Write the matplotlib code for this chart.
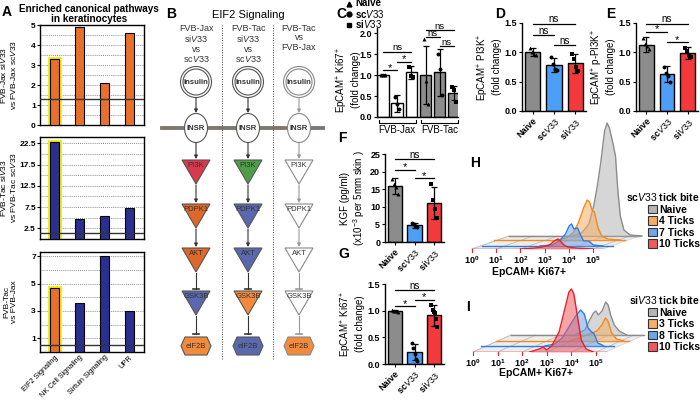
import numpy as np
import matplotlib
matplotlib.use("Agg")
import matplotlib.pyplot as plt
import matplotlib.transforms as mtransforms
from matplotlib.patches import Ellipse, Polygon, Patch
from matplotlib.lines import Line2D
from matplotlib.ticker import FormatStrFormatter

plt.rcParams['font.family'] = 'Liberation Sans'
plt.rcParams['mathtext.fontset'] = 'custom'
plt.rcParams['mathtext.rm'] = 'Liberation Sans'
plt.rcParams['mathtext.it'] = 'Liberation Sans:italic'
plt.rcParams['mathtext.bf'] = 'Liberation Sans:bold'
plt.rcParams['font.size'] = 7
plt.rcParams['axes.linewidth'] = 1.0

# ---- data ----
# A: enriched pathways (-log p)
a_pathways = ["EIF2 Signaling", "NK Cell Signaling", "Sirtuin Signaling", "UPR"]
a_jax = [3.3, 4.9, 2.1, 4.6]
a_tac = [22.8, 4.6, 5.4, 7.3]
a_tac_vs_jax = [4.7, 3.6, 7.0, 3.0]

# B: EIF2 signaling nodes
b_headers = ["FVB-Jax\nsi$\\it{V33}$\nvs\nsc$\\it{V33}$",
             "FVB-Tac\nsi$\\it{V33}$\nvs\nsc$\\it{V33}$",
             "FVB-Tac\nvs\nFVB-Jax"]
b_nodes = ["PI3K", "PDPK1", "AKT", "GSK3B", "eIF2B"]
b_fill = [["#d8394b", "#e0672a", "#e0672a", "#5a68ae", "#f28a3c"],
          ["#4e9e47", "#5a68ae", "#5a68ae", "#f28a3c", "#5a68ae"],
          ["white", "white", "white", "white", "#f28a3c"]]

# C: EpCAM+ Ki67+ fold change
c_groups = ["FVB-Jax", "FVB-Tac"]
c_means = [1.0, 0.33, 1.06, 1.0, 1.06, 0.57]
c_err = [0.02, 0.2, 0.16, 0.68, 0.55, 0.17]
c_points = [[1.01, 1.0, 0.99], [0.47, 0.3, 0.2], [1.18, 0.98, 0.95],
            [1.85, 0.85, 0.3], [1.5, 1.15, 0.52], [0.72, 0.64, 0.36]]

cond = ["Naive", "sc$\\it{V33}$", "si$\\it{V33}$"]

d_means = [1.0, 0.79, 0.81]
d_err = [0.07, 0.12, 0.17]
d_points = [[1.07, 1.0, 0.97, 0.95], [0.92, 0.8, 0.72, 0.7], [0.97, 0.88, 0.75, 0.68]]

e_means = [1.13, 0.63, 0.99]
e_err = [0.13, 0.14, 0.1]
e_points = [[1.25, 1.15, 1.1, 1.05], [0.75, 0.65, 0.6, 0.5], [1.08, 1.02, 0.95, 0.92]]

f_means = [16.0, 4.8, 11.0]
f_err = [2.3, 0.7, 4.5]
f_points = [[18.0, 16.5, 15.5, 13.5], [5.4, 5.0, 4.6, 4.2], [16.5, 12.0, 9.5, 6.8]]

g_means = [1.0, 0.22, 0.91]
g_err = [0.02, 0.15, 0.2]
g_points = [[1.02, 1.0, 0.99, 0.98], [0.4, 0.3, 0.18, 0.1, 0.05],
            [1.1, 1.02, 0.98, 0.95, 0.85, 0.7]]

# H: scV33 histograms (x in log10 decades, height)
h_labels = ["10 Ticks", "7 Ticks", "4 Ticks", "Naive"]
h10_x = [2.0, 2.6, 2.9, 3.2, 3.4, 3.55, 3.65, 3.8, 3.95, 4.3, 5.0]
h10_y = [0, 1, 2, 4, 8, 10, 8, 4, 2, 1, 0]
h7_x = [2.4, 2.9, 3.2, 3.45, 3.6, 3.7, 3.8, 3.95, 4.05, 4.2, 4.4, 4.6, 5.0]
h7_y = [0, 1, 5, 12, 20, 22, 17, 18, 12, 5, 5, 1, 0]
h4_x = [2.6, 3.0, 3.3, 3.5, 3.7, 3.85, 3.95, 4.05, 4.15, 4.3, 4.45, 4.7, 5.2]
h4_y = [0, 2, 8, 18, 32, 40, 38, 30, 28, 12, 4, 1, 0]
hn_x = [2.6, 3.0, 3.3, 3.5, 3.65, 3.8, 3.95, 4.05, 4.15, 4.3, 4.4, 4.5, 4.6, 4.75, 5.0, 5.5]
hn_y = [0, 3, 12, 30, 50, 75, 105, 113, 108, 92, 80, 45, 20, 6, 1, 0]

# I: siV33 histograms
i_labels = ["10 Ticks", "8 Ticks", "3 Ticks", "Naive"]
i10_x = [2.3, 2.7, 2.85, 3.0, 3.2, 3.5, 3.75, 3.9, 4.0, 4.1, 4.25, 4.4, 4.6, 4.9]
i10_y = [0, 3, 5, 2, 6, 20, 45, 60, 63, 58, 35, 12, 3, 0]
i8_x = [2.6, 3.0, 3.3, 3.6, 3.85, 4.05, 4.2, 4.35, 4.5, 4.6, 4.75, 5.0]
i8_y = [0, 2, 8, 20, 30, 36, 32, 18, 14, 12, 3, 0]
i3_x = [3.0, 3.4, 3.7, 3.9, 4.1, 4.3, 4.45, 4.55, 4.7, 4.9, 5.2]
i3_y = [0, 3, 6, 8, 10, 16, 23, 20, 8, 2, 0]
in_x = [2.6, 3.0, 3.2, 3.35, 3.45, 3.55, 3.7, 3.85, 3.95, 4.05, 4.2, 4.4, 4.7]
in_y = [0, 5, 15, 22, 24, 20, 24, 33, 30, 20, 10, 4, 0]

# ---- figure ----
W, H = 700, 401
fig = plt.figure(figsize=(7, 4.01), dpi=100)


def px_axes(x0, y0, x1, y1):
    return fig.add_axes([x0 / W, 1 - y1 / H, (x1 - x0) / W, (y1 - y0) / H])


def bold_ticks(ax, x=True):
    labels = ax.get_yticklabels() + (ax.get_xticklabels() if x else [])
    for t in labels:
        t.set_fontweight('bold')


# ---- A ----
ORANGE, NAVY = '#e8702a', '#2b2f8f'


def enrich_panel(box, vals, colors, ylim, yticks, minor, thresh, ylabel, xlabels=False):
    ax = px_axes(*box)
    x = np.arange(len(vals))
    ax.bar(x[:1], vals[:1], width=0.36, color=colors[0], edgecolor='#f2ee00', linewidth=3.5, zorder=2)
    ax.bar(x, vals, width=0.36, color=colors, edgecolor='black', linewidth=0.8, zorder=3)
    ax.axhline(thresh, color='#333333', lw=1, zorder=4)
    ax.set_xlim(-0.6, 3.6)
    ax.set_ylim(*ylim)
    ax.set_yticks(yticks)
    ax.set_yticks(minor, minor=True)
    ax.grid(axis='y', which='both', linestyle=(0, (1, 1.5)), color='#666666', lw=0.6, zorder=0)
    ax.tick_params(axis='y', which='major', labelsize=6, length=2, pad=1)
    ax.tick_params(axis='y', which='minor', length=0)
    ax.set_ylabel(ylabel, fontsize=6, linespacing=1.05)
    ax.yaxis.set_label_coords(-0.215, 0.5)
    if xlabels:
        ax.set_xticks(x)
        ax.set_xticklabels(a_pathways, rotation=45, ha='right', rotation_mode='anchor', fontsize=5.3)
        ax.tick_params(axis='x', length=0, pad=1.5)
    else:
        ax.set_xticks([])
    bold_ticks(ax, x=False)
    return ax


enrich_panel((40, 25, 144, 125), a_jax, [ORANGE] * 4, (0, 5), range(6),
             np.arange(0, 5.01, 0.5), 1.3, "FVB-Jax si$\\it{V33}$\nvs FVB-Jax sc$\\it{V33}$")
enrich_panel((40, 137, 144, 239), a_tac, [NAVY] * 4, (0, 24), [2.5, 7.5, 12.5, 17.5, 22.5],
             np.arange(0, 24, 2.5), 1.5, "FVB-Tac si$\\it{V33}$\nvs FVB-Tac sc$\\it{V33}$")
enrich_panel((40, 252, 144, 352), a_tac_vs_jax, [ORANGE, NAVY, NAVY, NAVY], (0, 7.3), [1, 3, 5, 7],
             range(0, 8), 0.5, "FVB-Tac\nvs FVB-Jax", xlabels=True)
fig.text(89 / W, 1 - 14 / H, "Enriched canonical pathways\nin keratinocytes", ha='center', va='center',
         fontsize=7.2, fontweight='bold', linespacing=0.95)

# ---- B ----
axB = px_axes(140, 0, 335, 401)
axB.set_xlim(140, 335)
axB.set_ylim(401, 0)
axB.axis('off')
axB.text(248, 15, "EIF2 Signaling", ha='center', va='center', fontsize=8)
for sx in [222, 273]:
    axB.plot([sx, sx], [25, 360], color='#444444', lw=0.7, linestyle=(0, (1, 1.5)))
axB.plot([162, 323], [128, 128], color='#7f7870', lw=2.8, zorder=1)

col_x = [196, 248, 299]
tri_top = [160, 204, 248, 291]
for c, cx in enumerate(col_x):
    edge = '#555555' if c < 2 else '#888888'
    link = '#333333' if c < 2 else '#999999'
    axB.text(cx, 24, b_headers[c], ha='center', va='top', fontsize=6.5, linespacing=1.05, color='#333333')
    axB.add_patch(Ellipse((cx, 82), 31, 31, facecolor='white', edgecolor=edge, lw=0.8, zorder=2))
    axB.add_patch(Ellipse((cx, 82), 26, 26, facecolor='white', edgecolor=edge, lw=0.8, zorder=2))
    axB.text(cx, 82, "Insulin", ha='center', va='center', fontsize=5.5, fontweight='bold', color='#333333', zorder=3)
    axB.add_patch(Ellipse((cx, 128), 23, 29, facecolor='white', edgecolor=edge, lw=0.8, zorder=2))
    axB.text(cx, 128, "INSR", ha='center', va='center', fontsize=5.5, fontweight='bold', color='#333333', zorder=3)
    for k, top in enumerate(tri_top):
        axB.add_patch(Polygon([(cx - 14, top), (cx + 14, top), (cx, top + 24)], closed=True,
                              facecolor=b_fill[c][k], edgecolor=edge, lw=0.8, zorder=2))
        axB.text(cx, top + 5.5, b_nodes[k], ha='center', va='center', fontsize=5.5, color='#333333', zorder=3)
    hx = [(cx - 15, 346), (cx - 11, 337), (cx + 11, 337), (cx + 15, 346), (cx + 11, 355), (cx - 11, 355)]
    axB.add_patch(Polygon(hx, closed=True, facecolor=b_fill[c][4], edgecolor=edge, lw=0.8, zorder=2))
    axB.text(cx, 346, b_nodes[4], ha='center', va='center', fontsize=5.5, color='#333333', zorder=3)
    for y0, y1 in [(98, 113), (143, 159), (185, 203), (229, 247)]:
        axB.annotate('', xy=(cx, y1), xytext=(cx, y0),
                     arrowprops=dict(arrowstyle='-|>', color=link, lw=0.8, mutation_scale=5,
                                     shrinkA=0, shrinkB=0))
    for y0, y1 in [(273, 289), (316, 334)]:
        axB.plot([cx, cx], [y0, y1], color=link, lw=0.8)
        axB.plot([cx - 3, cx + 3], [y1, y1], color=link, lw=1.2)

# ---- C-G bar panels ----
BAR3 = ['#8c8c8c', '#4d9ef7', '#f2393b']
MARK3 = ['^', 'o', 's']


def bar_panel(box, means, errs, points, colors, marks, ylim, yticks, fmt, ylabel, brackets,
              xlim=(-0.5, 2.5), width=0.72, xlabels=True, ns_size=7):
    ax = px_axes(*box)
    x = np.arange(len(means))
    ax.bar(x, means, width=width, color=colors, edgecolor='black', linewidth=1, zorder=2)
    ax.errorbar(x, means, yerr=errs, fmt='none', ecolor='black', elinewidth=0.9,
                capsize=2, capthick=0.9, zorder=3)
    for xi, pts, m in zip(x, points, marks):
        offs = np.linspace(-0.14, 0.14, len(pts))
        ax.scatter(xi + offs, pts, marker=m, s=8, color='black', zorder=4, linewidths=0)
    for i, j, y, txt in brackets:
        ax.plot([x[i], x[j]], [y, y], color='black', lw=0.9, clip_on=False)
        if txt == 'ns':
            ax.text((x[i] + x[j]) / 2, y - ylim[1] * 0.01, txt, ha='center', va='bottom',
                    fontsize=ns_size, clip_on=False)
        else:
            ax.text((x[i] + x[j]) / 2, y - (ylim[1] * 0.03), txt, ha='center', va='bottom',
                    fontsize=8, clip_on=False)
    ax.set_xlim(*xlim)
    ax.set_ylim(*ylim)
    ax.set_yticks(yticks)
    ax.yaxis.set_major_formatter(FormatStrFormatter(fmt))
    ax.spines['top'].set_visible(False)
    ax.spines['right'].set_visible(False)
    ax.tick_params(axis='y', labelsize=6.5, length=2.5, pad=1)
    ax.set_ylabel(ylabel, fontsize=7, labelpad=2, linespacing=1.1)
    if xlabels:
        ax.set_xticks(x)
        ax.set_xticklabels(cond, rotation=45, ha='right', rotation_mode='anchor', fontsize=6.5)
        ax.tick_params(axis='x', length=2, pad=2)
    else:
        ax.set_xticks([])
    bold_ticks(ax)
    return ax


axC = bar_panel((377, 28, 458, 117), c_means, c_err, c_points, ['white'] * 3 + ['#8c8c8c'] * 3,
                MARK3 * 2, (0, 2.12), [0, 0.5, 1.0, 1.5, 2.0], '%.1f',
                "EpCAM$^{+}$ Ki67$^{+}$\n(fold change)",
                [(0, 2, 1.56, 'ns'), (0, 1, 1.12, '*'), (1, 2, 1.32, '*'),
                 (3, 5, 2.08, 'ns'), (3, 4, 1.9, 'ns'), (4, 5, 1.68, 'ns')],
                xlim=(-0.42, 5.28), width=0.8, xlabels=False, ns_size=6.8)
axC.yaxis.set_label_coords(-0.2, 0.42)
trans = mtransforms.blended_transform_factory(axC.transData, axC.transAxes)
for (i, j), name in zip([(0, 2), (3, 5)], c_groups):
    axC.plot([i - 0.3, i - 0.3, j + 0.3, j + 0.3], [-0.03, -0.07, -0.07, -0.03], transform=trans,
             clip_on=False, color='black', lw=0.8)
    axC.text((i + j) / 2, -0.09, name, transform=trans, ha='center', va='top', fontsize=7)
# legend of panel C (marker + label rows)
for r, (m, lab) in enumerate(zip(MARK3, cond)):
    ly = 3.5 + 10.5 * r
    fig.add_artist(Line2D([349 / W], [1 - ly / H], marker=m, color='black', linestyle='none',
                          markersize=3.5))
    fig.text(355 / W, 1 - ly / H, lab, va='center', ha='left', fontsize=7, fontweight='bold')

bar_panel((522, 23, 586, 111), d_means, d_err, d_points, BAR3, MARK3, (0, 1.5),
          [0, 0.5, 1.0, 1.5], '%.1f', "EpCAM$^{+}$ PI3K$^{+}$\n(fold change)",
          [(0, 2, 1.49, 'ns'), (0, 1, 1.29, 'ns'), (1, 2, 1.12, 'ns')])
bar_panel((636, 23, 698, 111), e_means, e_err, e_points, BAR3, MARK3, (0, 1.5),
          [0, 0.5, 1.0, 1.5], '%.1f', "EpCAM$^{+}$ p-PI3K$^{+}$\n(fold change)",
          [(0, 2, 1.49, 'ns'), (0, 1, 1.35, '*'), (1, 2, 1.17, '*')])
bar_panel((385, 154, 444, 242), f_means, f_err, f_points, BAR3, MARK3, (0, 25),
          [0, 5, 10, 15, 20, 25], '%d', "KGF (pg/ml)\n(x10$^{-3}$ per 5mm skin )",
          [(0, 2, 23.5, 'ns'), (0, 1, 20.5, '*'), (1, 2, 18.1, '*')])
bar_panel((385, 284, 444, 364), g_means, g_err, g_points, BAR3, MARK3, (0, 1.5),
          [0, 0.5, 1.0, 1.5], '%.1f', "EpCAM$^{+}$ Ki67$^{+}$\n(fold change)",
          [(0, 2, 1.39, 'ns'), (0, 1, 1.08, '*'), (1, 2, 1.2, '*')])

# ---- H / I ridge histograms ----
LINE4 = ['#e8202a', '#2f7de1', '#f28a1e', '#8c8c8c']
FILL4 = ['#ee5a60', '#6fa5ea', '#f5ae64', '#b5b5b5']


def ridge_panel(box, zero_px, dec_px, curves, offsets, labels, title, legend_top, xlabel_xy):
    x0, y0, x1, y1 = box
    ax = px_axes(*box)
    ax.set_xlim((x0 - zero_px) / dec_px, (x1 - zero_px) / dec_px)
    ax.set_ylim(0, y1 - y0)
    ax.axis('off')
    span = 5.4
    bx, by = offsets[-1][0] / dec_px, offsets[-1][1]
    ax.add_patch(Polygon([(0, 0), (span, 0), (span + bx, by), (bx, by)], closed=True,
                         facecolor='#ededed', edgecolor='#cfcfcf', lw=0.5, zorder=0))
    for d in range(6):
        ax.plot([d, d + bx], [0, by], color='#bdbdbd', lw=0.6, zorder=0)
    for k in range(len(curves) - 1, -1, -1):
        xs, ys = curves[k]
        ox, oy = offsets[k][0] / dec_px, offsets[k][1]
        z = 10 - 2 * k
        ax.plot([ox, span + ox], [oy, oy], color=LINE4[k], lw=1.0, zorder=z)
        ax.fill_between(np.array(xs) + ox, oy, np.array(ys) + oy, color=FILL4[k], alpha=0.55,
                        lw=0, zorder=z)
        ax.plot(np.array(xs) + ox, np.array(ys) + oy, color=LINE4[k], lw=1.0, zorder=z + 1)
    for d in range(6):
        ax.plot([d, d], [0, -3], color=LINE4[0], lw=0.8, clip_on=False)
        ax.text(d, -5, "$\\mathbf{10^{%d}}$" % d, ha='center', va='top', fontsize=6.5)
    fig.text(xlabel_xy[0] / W, 1 - xlabel_xy[1] / H, "EpCAM+ Ki67+", ha='center', va='center',
             fontsize=7.5, fontweight='bold')
    handles = [Patch(facecolor=FILL4[k], edgecolor='#333333', lw=0.8) for k in range(3, -1, -1)]
    fig.legend(handles, labels[::-1], title=title, loc='upper right', bbox_to_anchor=(1.0, 1 - legend_top / H),
               frameon=False, handlelength=0.9, handleheight=0.9, handletextpad=0.2, labelspacing=0.15,
               borderpad=0, borderaxespad=0, alignment='right',
               prop={'weight': 'bold', 'size': 7.5}, title_fontproperties={'weight': 'bold', 'size': 7.5})


ridge_panel((470, 110, 700, 249), 472, 24.2,
            [(h10_x, h10_y), (h7_x, h7_y), (h4_x, h4_y), (hn_x, hn_y)],
            [(0, 0), (10, 3), (22, 9), (37, 13)], h_labels, "sc$\\it{V33}$ tick bite", 191, (529, 272))
ridge_panel((470, 270, 700, 352), 473, 24.6,
            [(i10_x, i10_y), (i8_x, i8_y), (i3_x, i3_y), (in_x, in_y)],
            [(0, 0), (8, 6), (23, 11), (38, 17)], i_labels, "si$\\it{V33}$ tick bite", 294, (536, 373))

# panel letters
for letter, (lx, ly) in zip("ABCDEFGHI", [(2, 12), (166, 14), (336, 14), (495, 14), (606, 14),
                                         (338, 138), (338, 254), (470, 163), (466, 307)]):
    fig.text(lx / W, 1 - ly / H, letter, fontsize=10, fontweight='bold', va='center')

fig.savefig("out.png", dpi=100)
